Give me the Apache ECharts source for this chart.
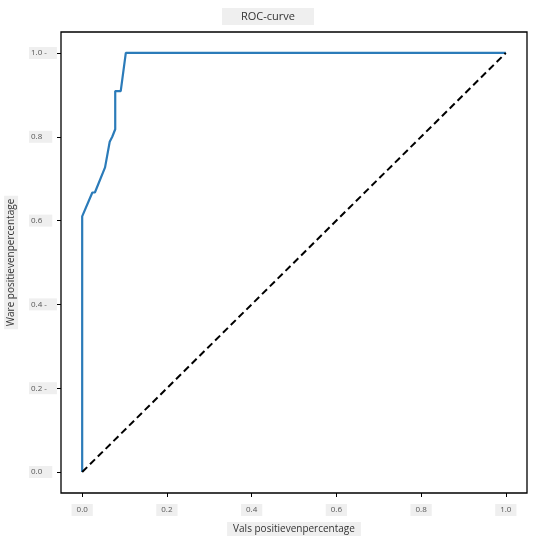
<!DOCTYPE html>
<html>
<head>
<meta charset="utf-8">
<script src="https://cdn.jsdelivr.net/npm/echarts@6/dist/echarts.min.js"></script>
<style>
  html, body { margin: 0; padding: 0; background: #fff; }
  #chart { width: 536px; height: 547px; }
</style>
</head>
<body>
<div id="chart"></div>
<script>
// ROC-punten
var fpr = [0, 0, 0.024, 0.030, 0.054, 0.065, 0.071, 0.078, 0.078, 0.091, 0.103, 1.0];
var tpr = [0, 0.610, 0.667, 0.667, 0.727, 0.788, 0.800, 0.818, 0.909, 0.909, 1.0, 1.0];
var diagX = [0, 1];
var diagY = [0, 1];
var xTicks = ['0.0', '0.2', '0.4', '0.6', '0.8', '1.0'];
var yTicks = ['0.0', '0.2 -', '0.4 -', '0.6', '0.8', '1.0 -'];

var rocData = fpr.map(function (v, i) { return [v, tpr[i]]; });
var diagData = diagX.map(function (v, i) { return [v, diagY[i]]; });

var chart = echarts.init(document.getElementById('chart'));
var font = '"Open Sans", "Noto Sans", sans-serif';
var tickVals = [0, 0.2, 0.4, 0.6, 0.8, 1.0];
var option = {
  animation: false,
  title: {
    text: 'ROC-curve',
    left: 'center',
    top: 8,
    textStyle: { fontSize: 11, fontWeight: 'normal', color: '#333', fontFamily: font },
    backgroundColor: '#efefef',
    padding: [3, 19]
  },
  grid: {
    left: 61, right: 9, top: 32, bottom: 54,
    outerBoundsMode: 'none',
    show: true, borderColor: '#000', borderWidth: 1.3
  },
  xAxis: {
    type: 'value', min: -0.05, max: 1.05,
    splitLine: { show: false },
    axisLine: { show: false, onZero: false },
    axisTick: { show: true, length: 4, lineStyle: { color: '#000' }, customValues: tickVals },
    axisLabel: {
      customValues: tickVals,
      formatter: function (v) { return xTicks[Math.round(v * 5)]; },
      fontSize: 8, color: '#555', fontFamily: font,
      backgroundColor: '#efefef', padding: [2, 5], margin: 11
    },
    name: 'Vals positievenpercentage',
    nameLocation: 'middle',
    nameGap: 29,
    nameTextStyle: { fontSize: 10, color: '#333', fontFamily: font, backgroundColor: '#efefef', padding: [2, 6] }
  },
  yAxis: {
    type: 'value', min: -0.05, max: 1.05,
    splitLine: { show: false },
    axisLine: { show: false, onZero: false },
    axisTick: { show: true, length: 4, lineStyle: { color: '#000' }, customValues: tickVals },
    axisLabel: {
      customValues: tickVals,
      formatter: function (v) { return yTicks[Math.round(v * 5)]; },
      fontSize: 8, color: '#555', fontFamily: font,
      align: 'left',
      backgroundColor: '#efefef', padding: [2, 10, 2, 2], margin: 32
    },
    name: 'Ware positievenpercentage',
    nameLocation: 'middle',
    nameRotate: 90,
    nameGap: 37,
    nameTextStyle: { fontSize: 10, color: '#333', fontFamily: font, backgroundColor: '#efefef', padding: [2, 3] }
  },
  series: [
    {
      type: 'line',
      data: rocData,
      showSymbol: false,
      lineStyle: { color: '#2b7bb9', width: 2.2 }
    },
    {
      type: 'line',
      data: diagData,
      showSymbol: false,
      lineStyle: { color: '#000', width: 2, type: [7, 4] }
    }
  ]
};
chart.setOption(option);
</script>
</body>
</html>
